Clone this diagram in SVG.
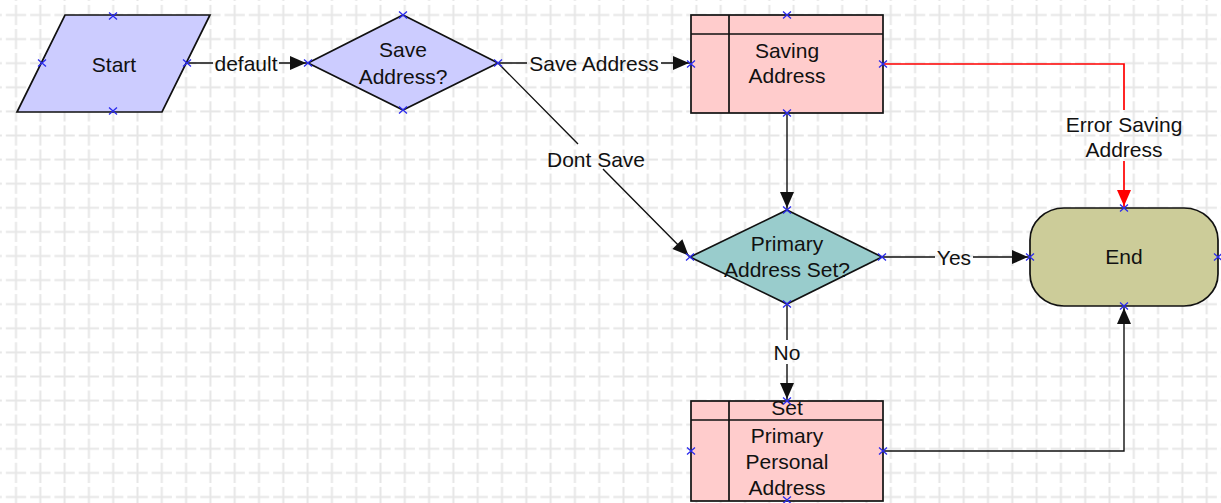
<svg xmlns="http://www.w3.org/2000/svg" xmlns:xlink="http://www.w3.org/1999/xlink" width="1221" height="503" viewBox="0 0 1221 503">
<style>
.node{stroke:#111;stroke-width:1.7}
.t{font-family:"Liberation Sans",Arial,sans-serif;font-size:21px;fill:#111;text-anchor:middle}
.c{fill:none;stroke:#111;stroke-width:1.4}
.cr{fill:none;stroke:#ff0000;stroke-width:1.7}
.xm{stroke:#2a2aee;stroke-width:1.3;fill:none}
</style>
<defs>
<pattern id="grid" patternUnits="userSpaceOnUse" x="3.85" y="2.95" width="24.3" height="24.1">
<path d="M2,12.05 H22.3 M12.15,2 V22.1" stroke="#e6e6e6" stroke-width="2" fill="none"/>
</pattern>
<marker id="arr" markerUnits="userSpaceOnUse" markerWidth="16" markerHeight="14" refX="18" refY="7" orient="auto" overflow="visible">
<path d="M0,0 L16,7 L0,14 z" fill="#111"/>
</marker>
<marker id="arrR" markerUnits="userSpaceOnUse" markerWidth="16" markerHeight="14" refX="18" refY="7" orient="auto" overflow="visible">
<path d="M0,0 L16,7 L0,14 z" fill="#ff0000"/>
</marker>
<path id="xmark" d="M-4,-3.5 L4,3.5 M-4,3.5 L4,-3.5"/>
</defs>
<rect width="1221" height="503" fill="#ffffff"/>
<rect width="1221" height="503" fill="url(#grid)"/>

<g id="connectors">
<path class="c" d="M187,63 H213 M279,63 H308" marker-end="url(#arr)"/>
<text class="t" x="246" y="71">default</text>

<path class="c" d="M498,63 H527 M661,63 H691" marker-end="url(#arr)"/>
<text class="t" x="594" y="71">Save Address</text>

<path class="c" d="M498,63 L578,144 M603,169 L690,257" marker-end="url(#arr)"/>
<text class="t" x="596" y="167">Dont Save</text>

<path class="cr" d="M883,64 H1124 V110 M1124,161 V208" marker-end="url(#arrR)"/>
<text class="t" x="1124" y="132">Error Saving</text>
<text class="t" x="1124" y="157">Address</text>

<path class="c" d="M787,113 V210" marker-end="url(#arr)"/>

<path class="c" d="M882,257 H935 M973,257 H1030" marker-end="url(#arr)"/>
<text class="t" x="954" y="265">Yes</text>

<path class="c" d="M787,304 V340 M787,364 V401" marker-end="url(#arr)"/>
<text class="t" x="787" y="360">No</text>

<path class="c" d="M883,451 H1124 V306" marker-end="url(#arr)"/>
</g>

<g id="start">
<polygon class="node" points="65,15 210,15 162,112 17,112" fill="#ccccff"/>
<text class="t" x="114" y="72">Start</text>
<use href="#xmark" class="xm" x="113" y="16"/>
<use href="#xmark" class="xm" x="113" y="111"/>
<use href="#xmark" class="xm" x="42" y="63"/>
<use href="#xmark" class="xm" x="187" y="63"/>
</g>

<g id="save-address">
<polygon class="node" points="403,15 498,63 403,110 308,63" fill="#ccccff"/>
<text class="t" x="403" y="57">Save</text>
<text class="t" x="403" y="84">Address?</text>
<use href="#xmark" class="xm" x="403" y="15"/>
<use href="#xmark" class="xm" x="403" y="110"/>
<use href="#xmark" class="xm" x="308" y="63"/>
<use href="#xmark" class="xm" x="498" y="63"/>
</g>

<g id="saving-address">
<rect class="node" x="691" y="15" width="192" height="98" fill="#ffcccc"/>
<path class="node" d="M729,15 V113 M691,34 H883" fill="none"/>
<text class="t" x="787" y="58">Saving</text>
<text class="t" x="787" y="83">Address</text>
<use href="#xmark" class="xm" x="787" y="15"/>
<use href="#xmark" class="xm" x="787" y="113"/>
<use href="#xmark" class="xm" x="691" y="64"/>
<use href="#xmark" class="xm" x="883" y="64"/>
</g>

<g id="primary-address-set">
<polygon class="node" points="787,210 882,257 787,304 690,257" fill="#99cccc"/>
<text class="t" x="787" y="251">Primary</text>
<text class="t" x="787" y="277">Address Set?</text>
<use href="#xmark" class="xm" x="787" y="210"/>
<use href="#xmark" class="xm" x="787" y="304"/>
<use href="#xmark" class="xm" x="690" y="257"/>
<use href="#xmark" class="xm" x="882" y="257"/>
</g>

<g id="end">
<rect class="node" x="1030" y="208" width="188" height="98" rx="34" ry="32" fill="#cccc99"/>
<text class="t" x="1124" y="264">End</text>
<use href="#xmark" class="xm" x="1124" y="208"/>
<use href="#xmark" class="xm" x="1124" y="306"/>
<use href="#xmark" class="xm" x="1030" y="257"/>
<use href="#xmark" class="xm" x="1218" y="257"/>
</g>

<g id="set-primary-personal-address">
<rect class="node" x="691" y="401" width="192" height="100" fill="#ffcccc"/>
<path class="node" d="M729,401 V501 M691,420 H883" fill="none"/>
<text class="t" x="787" y="415">Set</text>
<text class="t" x="787" y="443">Primary</text>
<text class="t" x="787" y="469">Personal</text>
<text class="t" x="787" y="495">Address</text>
<use href="#xmark" class="xm" x="787" y="401"/>
<use href="#xmark" class="xm" x="787" y="500"/>
<use href="#xmark" class="xm" x="691" y="451"/>
<use href="#xmark" class="xm" x="883" y="451"/>
</g>
</svg>
